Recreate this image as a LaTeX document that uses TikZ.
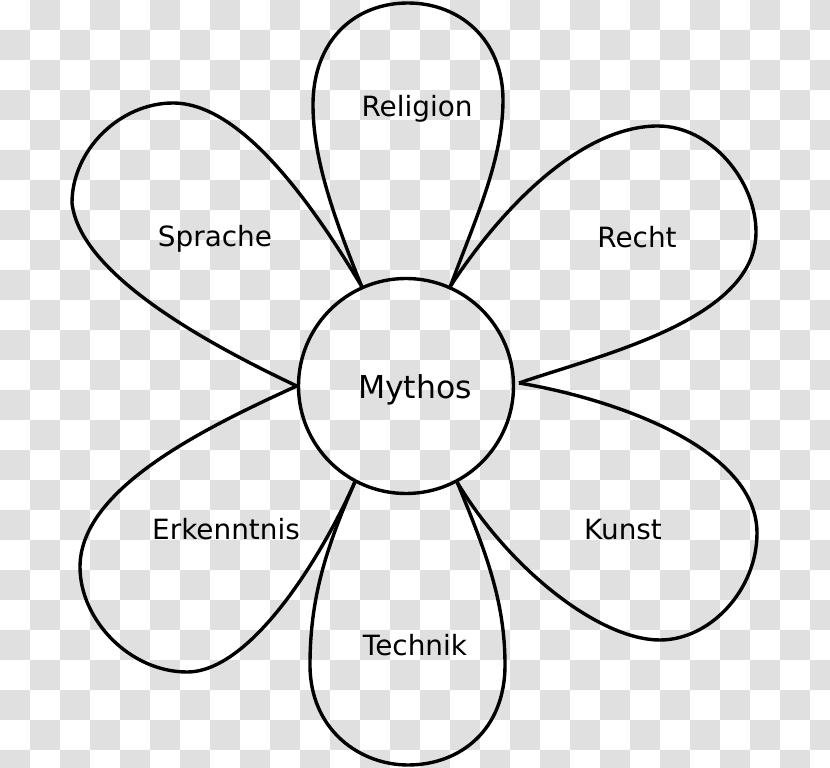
\documentclass[tikz,border=0pt]{standalone}
\usepackage{fontspec}
\setmainfont{DejaVu Sans}
\definecolor{checkgray}{RGB}{224,224,224}

\begin{document}
\begin{tikzpicture}[
	% one unit is one pixel of the reference, y downwards
	x=0.03cm, y=-0.03cm,
	% Style for the flower petals
	petal/.style={
		draw=black,
		line width=2.9pt,
		line join=round
	},
	% Style for the centre circle
	heart/.style={
		circle,
		draw=black,
		line width=2.9pt,
		inner sep=0pt,
		minimum size=6.45cm
	},
	% Style for the petal labels
	word/.style={
		font=\fontsize{23.8}{28}\selectfont,
		anchor=base,
		inner sep=0pt
	},
	bigword/.style={
		font=\fontsize{26.9}{32}\selectfont,
		anchor=base,
		inner sep=0pt
	}
	]
	\useasboundingbox (0,0) rectangle (830,768);
	
	% checkered background
	\begin{scope}
		\clip (0,0) rectangle (830,768);
		\fill[white] (0,0) rectangle (830,768);
		\foreach \i in {0,...,27}{
			\foreach \j in {0,...,25}{
				\pgfmathtruncatemacro\k{\i+\j}
				\ifodd\k
					\fill[checkgray] (\i*30,\j*30) rectangle ++(30,30);
				\fi
			}
		}
	\end{scope}
	
	% centre
	\node[heart] (m) at (406,386) {};
	\node[bigword] (mythos) at (415,399) {Mythos};
	\coordinate (tip) at (519,383); % where Recht and Kunst meet
	
	% petals, clockwise from the top
	\draw[petal] (m.114) .. controls (335,220) and (313,160) .. (313,105)
		.. controls (313,40) and (355,3) .. (408,3)
		.. controls (460,3) and (503,40) .. (503,100)
		.. controls (503,160) and (475,220) .. (m.66); % Religion
	\draw[petal] (m.66) .. controls (500,210) and (580,126) .. (658,126)
		.. controls (710,126) and (756,180) .. (756,232)
		.. controls (756,320) and (600,355) .. (tip); % Recht
	\draw[petal] (tip) .. controls (620,400) and (757,450) .. (757,533)
		.. controls (757,590) and (710,640) .. (660,640)
		.. controls (600,640) and (510,570) .. (m.-62); % Kunst
	\draw[petal] (m.-62) .. controls (485,550) and (505,600) .. (505,665)
		.. controls (505,730) and (460,765) .. (408,765)
		.. controls (360,765) and (310,730) .. (310,665)
		.. controls (310,600) and (325,550) .. (m.-118); % Technik
	\draw[petal] (m.-118) .. controls (320,560) and (250,672) .. (187,672)
		.. controls (130,672) and (80,620) .. (80,567)
		.. controls (80,490) and (200,430) .. (m.180); % Erkenntnis
	\draw[petal] (m.180) .. controls (210,345) and (80,275) .. (72,203)
		.. controls (72,150) and (120,103) .. (173,103)
		.. controls (240,103) and (310,200) .. (m.114); % Sprache
	
	% labels
	\node[word] (religion) at (417,117) {Religion};
	\node[word] (recht) at (637,248) {Recht};
	\node[word] (kunst) at (623,540) {Kunst};
	\node[word] (technik) at (415,655) {Technik};
	\node[word] (erkenntnis) at (226,540) {Erkenntnis};
	\node[word] (sprache) at (215,247) {Sprache};
	
\end{tikzpicture}
\end{document}
